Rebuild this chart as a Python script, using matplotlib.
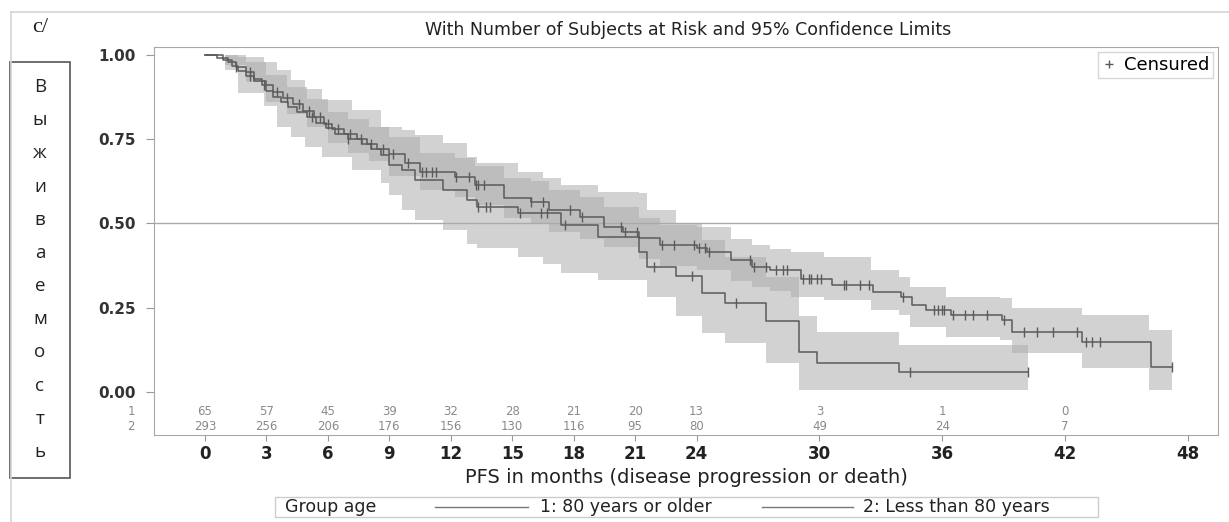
import numpy as np
import matplotlib.pyplot as plt
from matplotlib.lines import Line2D
from matplotlib.patches import Rectangle
from matplotlib import transforms

plt.rcParams['font.family'] = ['DejaVu Sans']

# Kaplan-Meier steps, group 1: 80 years or older
g1_time = [0, 0.9, 1.3, 1.6, 2.0, 2.4, 3.0, 3.3, 3.7, 4.05, 4.5, 5.0, 5.4, 5.9, 6.35,
           7.0, 7.65, 8.1, 8.6, 9.0, 9.6, 10.25, 11.6, 12.8, 13.3, 15.3, 17.4, 19.2,
           21.2, 21.6, 23.0, 24.25, 25.4, 27.4, 29.0, 29.9, 33.9]
g1_surv = [1.0, 0.985, 0.969, 0.954, 0.938, 0.923, 0.892, 0.877, 0.861, 0.846, 0.83,
           0.815, 0.799, 0.783, 0.767, 0.751, 0.735, 0.72, 0.704, 0.674, 0.659, 0.629,
           0.599, 0.570, 0.550, 0.531, 0.496, 0.461, 0.416, 0.372, 0.344, 0.293, 0.265,
           0.209, 0.119, 0.086, 0.059]
g1_end = 40.2
g1_censor = [2.2, 5.2, 7.0, 13.35, 13.7, 13.9, 15.4, 16.4, 16.7, 17.6, 21.9, 23.8,
             25.95, 34.4, 40.2]
g1_ci_time = [0, 1.0, 1.6, 2.9, 3.5, 4.2, 4.9, 5.7, 7.2, 8.6, 9.0, 9.6, 10.25, 11.6,
              12.8, 13.3, 15.3, 16.5, 17.4, 19.2, 21.2, 21.6, 23.0, 24.25, 25.4, 27.4,
              29.0, 29.9, 33.9]
g1_ci_low = [1.0, 0.955, 0.886, 0.85, 0.787, 0.757, 0.728, 0.698, 0.659, 0.619, 0.585,
             0.54, 0.51, 0.48, 0.44, 0.427, 0.40, 0.38, 0.353, 0.332, 0.332, 0.283,
             0.224, 0.175, 0.145, 0.086, 0.006, 0.006, 0.006]
g1_ci_high = [1.0, 1.0, 0.995, 0.98, 0.955, 0.926, 0.90, 0.866, 0.837, 0.787, 0.787,
              0.777, 0.763, 0.739, 0.698, 0.68, 0.654, 0.635, 0.614, 0.594, 0.59, 0.54,
              0.50, 0.45, 0.40, 0.34, 0.224, 0.179, 0.14]

# Kaplan-Meier steps, group 2: less than 80 years
g2_time = [0, 0.6, 1.1, 1.5, 2.0, 2.4, 2.8, 3.3, 3.8, 4.3, 4.8, 5.3, 5.8, 6.2, 6.8,
           7.4, 7.9, 8.4, 9.0, 9.75, 10.5, 12.2, 13.2, 14.6, 15.9, 16.8, 18.3, 19.5,
           20.4, 21.2, 22.2, 24.0, 24.5, 25.7, 26.7, 27.6, 29.1, 30.6, 32.6, 34.0,
           34.5, 35.2, 36.4, 38.9, 39.4, 42.8, 46.2]
g2_surv = [1.0, 0.99, 0.98, 0.965, 0.95, 0.93, 0.91, 0.89, 0.872, 0.855, 0.835, 0.815,
           0.795, 0.78, 0.765, 0.75, 0.735, 0.72, 0.705, 0.68, 0.654, 0.639, 0.614,
           0.576, 0.565, 0.540, 0.520, 0.49, 0.476, 0.456, 0.436, 0.426, 0.416, 0.392,
           0.372, 0.362, 0.335, 0.318, 0.298, 0.283, 0.258, 0.243, 0.228, 0.214,
           0.179, 0.149, 0.075]
g2_end = 47.2
g2_censor = [1.5, 2.2, 2.9, 3.5, 4.0, 4.6, 5.1, 5.6, 6.0, 6.5, 7.1, 7.6, 8.1, 8.7,
             9.2, 9.9, 10.6, 10.8, 11.1, 11.3, 12.25, 12.9, 13.25, 13.35, 13.6, 15.9,
             16.5, 17.8, 18.4, 20.3, 20.5, 21.1, 22.3, 22.9, 23.9, 24.1, 24.4, 24.6,
             26.6, 26.8, 27.4, 27.9, 28.2, 28.4, 29.2, 29.5, 29.6, 29.9, 30.1, 31.2,
             31.3, 32.0, 32.4, 34.1, 35.6, 35.8, 36.0, 36.1, 36.5, 37.1, 37.5, 38.2,
             39.0, 40.0, 40.6, 41.4, 42.6, 43.0, 43.3, 43.7, 47.2]
g2_ci_time = [0, 1.0, 2.0, 3.0, 4.0, 5.0, 6.0, 7.0, 8.0, 9.0, 10.5, 12.2, 13.2, 14.6,
              15.9, 16.8, 18.3, 19.5, 21.2, 22.2, 24.0, 25.7, 26.7, 27.6, 28.6, 30.2,
              32.5, 33.9, 34.4, 36.2, 38.8, 39.4, 42.8, 46.1]
g2_ci_low = [1.0, 0.97, 0.92, 0.86, 0.825, 0.785, 0.74, 0.71, 0.685, 0.64, 0.60, 0.58,
             0.555, 0.515, 0.50, 0.475, 0.455, 0.43, 0.395, 0.375, 0.362, 0.33, 0.31,
             0.30, 0.283, 0.273, 0.243, 0.228, 0.194, 0.164, 0.154, 0.115, 0.07, 0.006]
g2_ci_high = [1.0, 1.0, 0.98, 0.94, 0.905, 0.87, 0.83, 0.81, 0.785, 0.758, 0.71, 0.695,
              0.67, 0.635, 0.625, 0.60, 0.58, 0.55, 0.515, 0.495, 0.49, 0.455, 0.435,
              0.425, 0.416, 0.40, 0.362, 0.342, 0.312, 0.283, 0.278, 0.248, 0.228, 0.184]

# number at risk table
risk_months = [0, 3, 6, 9, 12, 15, 18, 21, 24, 30, 36, 42]
risk_g1 = [65, 57, 45, 39, 32, 28, 21, 20, 13, 3, 1, 0]
risk_g2 = [293, 256, 206, 176, 156, 130, 116, 95, 80, 49, 24, 7]

x_ticks = [0, 3, 6, 9, 12, 15, 18, 21, 24, 30, 36, 42, 48]
y_ticks = [0.0, 0.25, 0.5, 0.75, 1.0]
ylabel_letters = 'Выживаемость'

W, H = 1229, 522
line_color = '#5a5a5a'
band_color = '#aaaaaa'


def fx(px):
    return px / W


def fy(py):
    return 1 - py / H


def draw_band(ax, ci_t, lo, hi, end):
    ax.fill_between(np.append(ci_t, end), np.append(lo, lo[-1]), np.append(hi, hi[-1]),
                    step='post', color=band_color, alpha=0.52, linewidth=0, zorder=1)


def draw_curve(ax, t, s, end, cens):
    ax.step(np.append(t, end), np.append(s, s[-1]), where='post',
            color=line_color, lw=1.1, zorder=3)
    idx = np.searchsorted(t, cens, side='right') - 1
    ax.plot(cens, np.asarray(s)[idx], ls='none', marker='|', ms=7, mew=1,
            color=line_color, zorder=4)


fig = plt.figure(figsize=(W / 100, H / 100), dpi=100)
ax = fig.add_axes([fx(154), fy(435), fx(1218) - fx(154), fy(47) - fy(435)])

draw_band(ax, g1_ci_time, g1_ci_low, g1_ci_high, g1_end)
draw_band(ax, g2_ci_time, g2_ci_low, g2_ci_high, g2_end)
draw_curve(ax, g1_time, g1_surv, g1_end, g1_censor)
draw_curve(ax, g2_time, g2_surv, g2_end, g2_censor)

ax.axhline(0.5, color='#aaaaaa', lw=1, zorder=2)

ax.set_xlim(-2.49, 49.46)
ax.set_ylim(-0.128, 1.024)
ax.set_xticks(x_ticks)
ax.set_xticklabels([str(v) for v in x_ticks], fontweight='bold')
ax.set_yticks(y_ticks)
ax.set_yticklabels(['%.2f' % v for v in y_ticks], fontweight='bold')
ax.tick_params(axis='x', length=4, pad=3, color='#999999', labelsize=12,
               labelcolor='#222222')
ax.tick_params(axis='y', length=6, pad=7, color='#999999', labelsize=11,
               labelcolor='#333333')
for sp in ax.spines.values():
    sp.set_color('#a8a8a8')

ax.set_xlabel('PFS in months (disease progression or death)', fontsize=14,
              color='#222222', labelpad=4)

# at-risk counts under the curves
row_trans = transforms.blended_transform_factory(ax.transAxes, ax.transData)
for m, n1, n2 in zip(risk_months, risk_g1, risk_g2):
    ax.text(m, -0.059, str(n1), ha='center', va='center', fontsize=8.5, color='#8a8a8a')
    ax.text(m, -0.104, str(n2), ha='center', va='center', fontsize=8.5, color='#8a8a8a')
ax.text(-0.018, -0.059, '1', transform=row_trans, ha='right', va='center',
        fontsize=8.5, color='#8a8a8a')
ax.text(-0.018, -0.104, '2', transform=row_trans, ha='right', va='center',
        fontsize=8.5, color='#8a8a8a')

cens_handle = Line2D([], [], ls='none', marker='+', ms=6, mew=1, color=line_color)
leg = ax.legend([cens_handle], ['Censured'], loc='upper right', fontsize=13,
                frameon=True, fancybox=False, handlelength=0.8, handletextpad=0.4,
                borderpad=0.2, borderaxespad=0.3)
leg.get_frame().set_edgecolor('#cccccc')
leg.get_frame().set_linewidth(1)

fig.text(fx(688), fy(30), 'With Number of Subjects at Risk and 95% Confidence Limits',
         ha='center', va='center', fontsize=12.5, color='#222222')
fig.text(fx(40), fy(28), 'c/', ha='center', va='center', fontsize=16,
         family='Liberation Serif', color='#222222')

# outer frame
fig.add_artist(Line2D([fx(11), 1], [fy(12), fy(12)], transform=fig.transFigure,
                      color='#d4d4d4', lw=1.2))
fig.add_artist(Line2D([fx(11), fx(11)], [fy(12), 0], transform=fig.transFigure,
                      color='#d4d4d4', lw=1.2))

# vertical axis caption box
fig.add_artist(Rectangle((fx(10), fy(478)), fx(70) - fx(10), fy(62) - fy(478),
                         transform=fig.transFigure, fill=True, facecolor='white',
                         edgecolor='#555555', lw=1.2))
letter_y = np.linspace(87, 452, len(ylabel_letters))
for ch, py in zip(ylabel_letters, letter_y):
    fig.text(fx(40), fy(py), ch, ha='center', va='center', fontsize=13.5,
             family='Open Sans', color='#222222')

# group legend at the bottom
fig.add_artist(Rectangle((fx(275), fy(517)), fx(1098) - fx(275), fy(497) - fy(517),
                         transform=fig.transFigure, fill=False, edgecolor='#cccccc', lw=1))
fig.text(fx(285), fy(507), 'Group age', ha='left', va='center', fontsize=12.5,
         color='#222222')
fig.add_artist(Line2D([fx(435), fx(528)], [fy(507), fy(507)], transform=fig.transFigure,
                      color='#777777', lw=1))
fig.text(fx(540), fy(507), '1: 80 years or older', ha='left', va='center',
         fontsize=12.5, color='#222222')
fig.add_artist(Line2D([fx(762), fx(853)], [fy(507), fy(507)], transform=fig.transFigure,
                      color='#777777', lw=1))
fig.text(fx(863), fy(507), '2: Less than 80 years', ha='left', va='center',
         fontsize=12.5, color='#222222')

fig.savefig('out.png', dpi=100)
